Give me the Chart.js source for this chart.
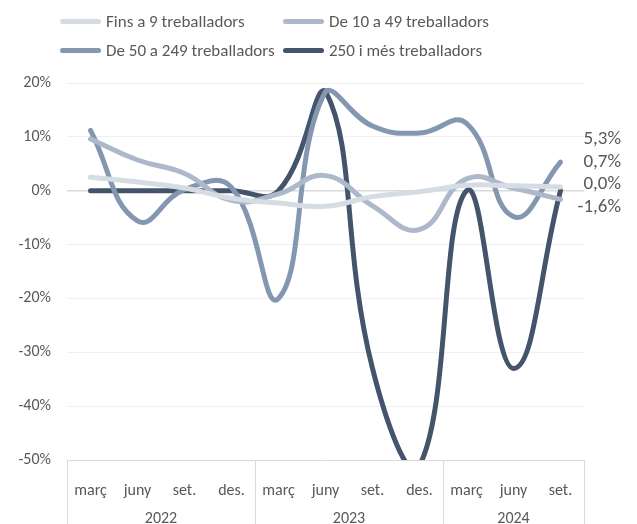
<!DOCTYPE html>
<html>
<head>
<meta charset="utf-8">
<script src="https://cdn.jsdelivr.net/npm/chart.js@4"></script>
<style>
    body { margin: 0; background: #fff; }
    #wrap { position: relative; width: 637px; height: 524px; }
    #legend {
        position: absolute; left: 60px; top: 11px;
        display: grid; grid-template-columns: 223px 260px; row-gap: 8px;
        font-family: Carlito, Lato, sans-serif; font-size: 17px; color: #595959;
    }
    .lg-item { display: flex; align-items: center; height: 21px; white-space: nowrap; }
    .lg-line { width: 41px; height: 5px; border-radius: 3px; margin-right: 5px; }
</style>
</head>
<body>
<div id="wrap">
    <canvas id="chart"></canvas>
    <div id="legend"></div>
</div>
<script>
// ── Data ──
const months    = ['març', 'juny', 'set.', 'des.', 'març', 'juny', 'set.', 'des.', 'març', 'juny', 'set.'];
const years     = ['2022', '2023', '2024'];
const yearSpans = [4, 4, 3];

const fins9    = [2.5, 1.6, 0.5, -1.4, -2.3, -2.9, -1.1, -0.2, 1.0, 0.9, 0.7];
const de10a49  = [9.6, 5.7, 3.2, -1.8, -0.6, 2.8, -2.8, -7.2, 2.2, 0.5, -1.6];
const de50a249 = [11.2, -5.6, 0.2, 0.6, -20.0, 18.4, 12.0, 10.7, 12.5, -4.8, 5.3];
const mes250   = [0, 0, 0, 0, 0, 18.5, -33, -51, 0, -33, 0];

const names  = ['Fins a 9 treballadors', 'De 10 a 49 treballadors', 'De 50 a 249 treballadors', '250 i més treballadors'];
const colors = ['#d6dce4', '#adb9ca', '#8497b0', '#44546a'];
const series = [fins9, de10a49, de50a249, mes250];
// vertical nudge (px) for the end labels so they don't overlap
const labelNudge = [-25, 8, -23, -6];

const TXT = '#595959';
const FONT = 'Carlito, Lato, sans-serif';

// ── Legend (2 columns) ──
const legend = document.getElementById('legend');
names.forEach((n, i) => {
    const d = document.createElement('div');
    d.className = 'lg-item';
    d.innerHTML = `<span class="lg-line" style="background:${colors[i]}"></span>${n}`;
    legend.appendChild(d);
});

// ── End-of-line value labels ──
const endLabels = {
    id: 'endLabels',
    afterDatasetsDraw(chart) {
        const { ctx, scales: { y } } = chart;
        ctx.save();
        ctx.font = '19px ' + FONT;
        ctx.fillStyle = TXT;
        ctx.textAlign = 'right';
        ctx.textBaseline = 'middle';
        chart.data.datasets.forEach((ds, i) => {
            const v = ds.data[ds.data.length - 1];
            const py = y.getPixelForValue(v) + labelNudge[i];
            ctx.fillText(v.toFixed(1).replace('.', ',') + '%', 621, py);
        });
        ctx.restore();
    }
};

// ── Year groups under the month axis ──
const yearAxis = {
    id: 'yearAxis',
    afterDraw(chart) {
        const { ctx, chartArea, scales: { x } } = chart;
        const half = (x.getPixelForValue(1) - x.getPixelForValue(0)) / 2;
        const top = chartArea.bottom, bottom = chart.height;
        ctx.save();
        ctx.strokeStyle = '#d9d9d9';
        ctx.lineWidth = 1;
        ctx.beginPath();
        ctx.moveTo(chartArea.left, top + 0.5);
        ctx.lineTo(chartArea.right, top + 0.5);
        let idx = 0;
        const edges = [x.getPixelForValue(0) - half];
        yearSpans.forEach(s => { idx += s; edges.push(x.getPixelForValue(idx - 1) + half); });
        edges.forEach(e => {
            const ex = Math.round(e) + 0.5;
            ctx.moveTo(ex, top);
            ctx.lineTo(ex, bottom);
        });
        ctx.stroke();

        ctx.font = '16px ' + FONT;
        ctx.fillStyle = TXT;
        ctx.textAlign = 'center';
        ctx.textBaseline = 'middle';
        years.forEach((yr, i) => {
            ctx.fillText(yr, (edges[i] + edges[i + 1]) / 2, top + 59);
        });
        ctx.restore();
    }
};

new Chart(document.getElementById('chart'), {
    type: 'line',
    data: {
        labels: months,
        datasets: series.map((d, i) => ({
            label: names[i],
            data: d,
            borderColor: colors[i],
            backgroundColor: colors[i],
            borderWidth: 5,
            borderCapStyle: 'round',
            tension: 0.45,
            pointRadius: 0,
            pointHoverRadius: 0,
        })),
    },
    options: {
        responsive: true, maintainAspectRatio: false,
        animation: false,
        layout: { padding: { top: 83, right: 53, left: 0, bottom: 0 } },
        plugins: {
            legend: { display: false },
            tooltip: { enabled: false },
        },
        scales: {
            x: {
                offset: true,
                grid: { display: false },
                border: { display: false },
                ticks: { color: TXT, font: { family: FONT, size: 16 }, padding: 13, maxRotation: 0, autoSkip: false },
                afterFit: s => { s.height = 64; },
            },
            y: {
                min: -50, max: 20,
                border: { display: false },
                grid: {
                    color: c => c.tick.value === 0 ? '#d9d9d9' : '#f0f0f0',
                    lineWidth: c => c.tick.value === 0 ? 1.5 : 1,
                    drawTicks: false,
                },
                ticks: {
                    stepSize: 10, color: TXT, padding: 16,
                    font: { family: FONT, size: 16 },
                    callback: v => v + '%',
                },
                afterFit: s => { s.width = 67; },
            },
        },
    },
    plugins: [endLabels, yearAxis],
});
</script>
</body>
</html>
